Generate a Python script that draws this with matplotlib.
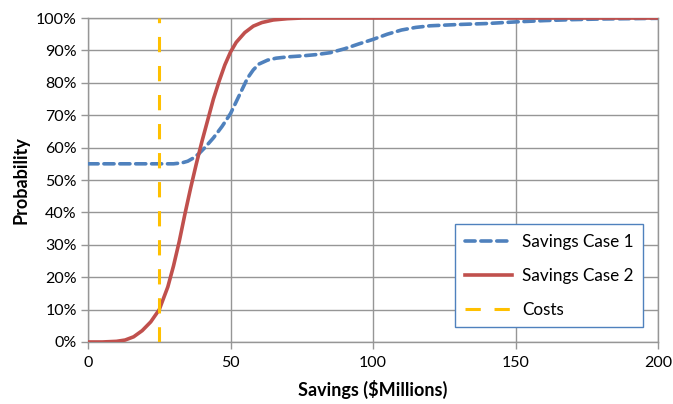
import matplotlib
matplotlib.use("Agg")
import matplotlib.pyplot as plt
from matplotlib.ticker import PercentFormatter

plt.rcParams['font.family'] = ['Lato', 'DejaVu Sans']

# cumulative probability curves (savings in $M, probability in %)
case1_x = [0, 10, 20, 25, 30, 33, 35, 37, 39, 41, 44, 47, 50, 53, 56, 58, 60, 63, 66, 70,
           75, 80, 85, 90, 95, 100, 105, 110, 115, 120, 130, 140, 150, 160, 170, 180, 190, 200]
case1_y = [55, 55, 55, 55, 55, 55.3, 55.8, 56.8, 58.2, 60, 63, 66.5, 70.5, 76, 81.5, 84, 85.8,
           87, 87.6, 88, 88.3, 88.7, 89.3, 90.5, 92, 93.4, 95, 96.3, 97.1, 97.6, 98, 98.3,
           98.8, 99.2, 99.5, 99.7, 99.8, 99.9]

case2_x = [0, 5, 10, 13, 16, 19, 22, 25, 28, 30, 32, 34, 36, 38, 40, 42, 44, 46, 48, 50, 52,
           55, 58, 61, 65, 70, 75, 80, 100, 150, 200]
case2_y = [0, 0, 0.2, 0.6, 1.6, 3.5, 6.2, 10, 17, 23.5, 31, 39.5, 47.5, 55, 62, 68.5, 75, 80.5,
           85.5, 89.5, 92.5, 95.5, 97.5, 98.6, 99.4, 99.8, 100, 100, 100, 100, 100]

costs_x = [25, 25]
costs_y = [0, 100]

fig = plt.figure(figsize=(6.73, 4.04), dpi=100)
ax = fig.add_axes([0.1308, 0.1535, 0.8469, 0.8019])

ax.plot(case1_x, case1_y, color='#4F81BD', lw=2.6, dashes=(2.8, 1.6),
        dash_capstyle='round', label='Savings Case 1', zorder=3)
ax.plot(case2_x, case2_y, color='#C0504D', lw=2.6, label='Savings Case 2', zorder=4)
ax.plot(costs_x, costs_y, color='#FFC000', lw=2.2, dashes=(5, 4.5),
        label='Costs', zorder=5)

ax.set_xlim(0, 200)
ax.set_ylim(0, 100)
ax.set_xticks([0, 50, 100, 150, 200])
ax.set_yticks(range(0, 101, 10))
ax.yaxis.set_major_formatter(PercentFormatter(decimals=0))
ax.grid(True, color='#969696', lw=1)
ax.set_axisbelow(True)
for s in ax.spines.values():
    s.set_color('#969696')
    s.set_linewidth(1)
ax.tick_params(axis='both', colors='#969696', length=5, width=1, labelsize=11.5,
               labelcolor='black')
ax.tick_params(axis='x', pad=5)
ax.tick_params(axis='y', pad=3)

ax.set_xlabel('Savings ($Millions)', fontsize=13, fontweight='bold', labelpad=7)
ax.set_ylabel('Probability', fontsize=13, fontweight='bold', labelpad=5)

leg = ax.legend(loc='lower right', bbox_to_anchor=(0.9737, 0.046), fontsize=12.3,
                frameon=True, fancybox=False, handlelength=2.75, labelspacing=1.05,
                borderpad=0.55, handletextpad=0.6, borderaxespad=0)
leg.get_frame().set_edgecolor('#4F81BD')
leg.get_frame().set_linewidth(1)
leg.get_frame().set_alpha(1)

fig.savefig('out.png', dpi=100)
